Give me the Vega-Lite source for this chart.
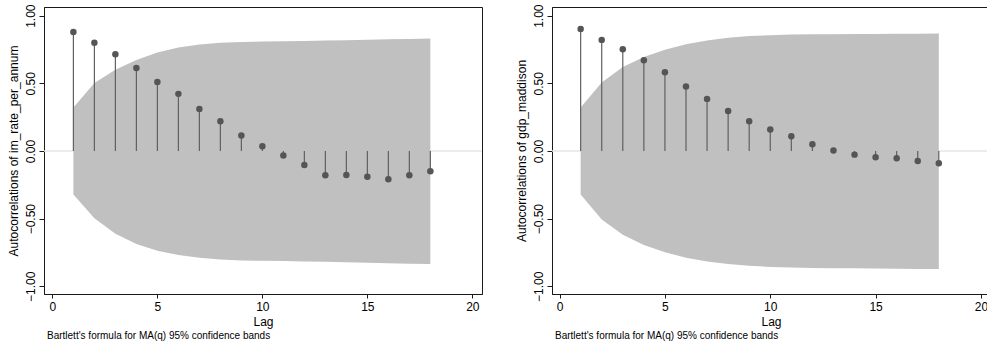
{
  "$schema": "https://vega.github.io/schema/vega-lite/v6.json",
  "background": "white",
  "padding": {"left": 6, "top": 3, "right": 0, "bottom": 0},
  "spacing": 30,
  "config": {
    "font": "Liberation Sans",
    "view": {"stroke": "#1a1a1a", "strokeWidth": 1},
    "axis": {"grid": false, "domainColor": "#1a1a1a", "tickColor": "#1a1a1a", "labelColor": "#000000", "titleColor": "#000000", "labelFont": "Liberation Sans", "titleFont": "Liberation Sans", "labelFontSize": 12, "titleFontSize": 12, "titleFontWeight": "normal", "tickSize": 5},
    "axisY": {"labelAngle": -90, "labelAlign": "center", "labelBaseline": "bottom", "labelPadding": 2, "titlePadding": 4},
    "axisX": {"labelPadding": 3, "titlePadding": 4, "tickSize": 4}
  },
  "datasets": {
    "im": [
      {"lag": 1, "r": 0.880, "upper": 0.322, "lower": -0.322},
      {"lag": 2, "r": 0.799, "upper": 0.502, "lower": -0.498},
      {"lag": 3, "r": 0.715, "upper": 0.600, "lower": -0.612},
      {"lag": 4, "r": 0.614, "upper": 0.672, "lower": -0.688},
      {"lag": 5, "r": 0.510, "upper": 0.728, "lower": -0.738},
      {"lag": 6, "r": 0.422, "upper": 0.764, "lower": -0.768},
      {"lag": 7, "r": 0.311, "upper": 0.787, "lower": -0.790},
      {"lag": 8, "r": 0.220, "upper": 0.799, "lower": -0.802},
      {"lag": 9, "r": 0.114, "upper": 0.806, "lower": -0.809},
      {"lag": 10, "r": 0.035, "upper": 0.809, "lower": -0.812},
      {"lag": 11, "r": -0.034, "upper": 0.811, "lower": -0.814},
      {"lag": 12, "r": -0.104, "upper": 0.813, "lower": -0.816},
      {"lag": 13, "r": -0.180, "upper": 0.816, "lower": -0.819},
      {"lag": 14, "r": -0.177, "upper": 0.819, "lower": -0.822},
      {"lag": 15, "r": -0.190, "upper": 0.822, "lower": -0.826},
      {"lag": 16, "r": -0.209, "upper": 0.825, "lower": -0.829},
      {"lag": 17, "r": -0.180, "upper": 0.828, "lower": -0.833},
      {"lag": 18, "r": -0.150, "upper": 0.831, "lower": -0.836}
    ],
    "gdp": [
      {"lag": 1, "r": 0.902, "upper": 0.322, "lower": -0.322},
      {"lag": 2, "r": 0.821, "upper": 0.506, "lower": -0.506},
      {"lag": 3, "r": 0.752, "upper": 0.620, "lower": -0.620},
      {"lag": 4, "r": 0.671, "upper": 0.694, "lower": -0.694},
      {"lag": 5, "r": 0.582, "upper": 0.748, "lower": -0.748},
      {"lag": 6, "r": 0.476, "upper": 0.789, "lower": -0.789},
      {"lag": 7, "r": 0.385, "upper": 0.817, "lower": -0.817},
      {"lag": 8, "r": 0.296, "upper": 0.836, "lower": -0.836},
      {"lag": 9, "r": 0.220, "upper": 0.849, "lower": -0.849},
      {"lag": 10, "r": 0.158, "upper": 0.856, "lower": -0.857},
      {"lag": 11, "r": 0.109, "upper": 0.860, "lower": -0.862},
      {"lag": 12, "r": 0.050, "upper": 0.862, "lower": -0.864},
      {"lag": 13, "r": 0.003, "upper": 0.863, "lower": -0.866},
      {"lag": 14, "r": -0.027, "upper": 0.864, "lower": -0.867},
      {"lag": 15, "r": -0.047, "upper": 0.865, "lower": -0.869},
      {"lag": 16, "r": -0.054, "upper": 0.866, "lower": -0.870},
      {"lag": 17, "r": -0.074, "upper": 0.867, "lower": -0.872},
      {"lag": 18, "r": -0.091, "upper": 0.868, "lower": -0.873}
    ]
  },
  "hconcat": [
    {
      "width": 438,
      "height": 287,
      "data": {"name": "im"},
      "title": {"text": "Bartlett's formula for MA(q) 95% confidence bands", "orient": "bottom", "anchor": "start", "frame": "group", "fontSize": 10, "fontWeight": "normal", "font": "Liberation Sans", "color": "#000000", "offset": 4, "dx": 3},
      "layer": [
        {
          "data": {"values": [{}]},
          "mark": {"type": "rule", "color": "#e6e6e6", "strokeWidth": 1.5},
          "encoding": {"y": {"datum": 0, "type": "quantitative", "scale": {"domain": [-1.057, 1.064], "nice": false, "zero": false}}}
        },
        {
          "mark": {"type": "area", "color": "#c0c0c0", "opacity": 1},
          "encoding": {
            "x": {"field": "lag", "type": "quantitative", "scale": {"domain": [-0.4, 20.46], "nice": false, "zero": false}, "axis": {"title": "Lag", "values": [0, 5, 10, 15, 20]}},
            "y": {"field": "upper", "type": "quantitative", "scale": {"domain": [-1.057, 1.064], "nice": false, "zero": false}, "axis": {"title": "Autocorrelations of im_rate_per_annum", "values": [-1, -0.5, 0, 0.5, 1], "format": ".2f"}},
            "y2": {"field": "lower"}
          }
        },
        {
          "mark": {"type": "rule", "color": "#606060", "strokeWidth": 1.2},
          "encoding": {
            "x": {"field": "lag", "type": "quantitative"},
            "y": {"field": "r", "type": "quantitative"},
            "y2": {"datum": 0}
          }
        },
        {
          "mark": {"type": "point", "filled": true, "color": "#555555", "size": 42, "opacity": 1},
          "encoding": {
            "x": {"field": "lag", "type": "quantitative"},
            "y": {"field": "r", "type": "quantitative"}
          }
        }
      ]
    },
    {
      "width": 438,
      "height": 287,
      "data": {"name": "gdp"},
      "title": {"text": "Bartlett's formula for MA(q) 95% confidence bands", "orient": "bottom", "anchor": "start", "frame": "group", "fontSize": 10, "fontWeight": "normal", "font": "Liberation Sans", "color": "#000000", "offset": 4, "dx": 3},
      "layer": [
        {
          "data": {"values": [{}]},
          "mark": {"type": "rule", "color": "#e6e6e6", "strokeWidth": 1.5},
          "encoding": {"y": {"datum": 0, "type": "quantitative", "scale": {"domain": [-1.057, 1.064], "nice": false, "zero": false}}}
        },
        {
          "mark": {"type": "area", "color": "#c0c0c0", "opacity": 1},
          "encoding": {
            "x": {"field": "lag", "type": "quantitative", "scale": {"domain": [-0.36, 20.43], "nice": false, "zero": false}, "axis": {"title": "Lag", "values": [0, 5, 10, 15, 20]}},
            "y": {"field": "upper", "type": "quantitative", "scale": {"domain": [-1.057, 1.064], "nice": false, "zero": false}, "axis": {"title": "Autocorrelations of gdp_maddison", "values": [-1, -0.5, 0, 0.5, 1], "format": ".2f"}},
            "y2": {"field": "lower"}
          }
        },
        {
          "mark": {"type": "rule", "color": "#606060", "strokeWidth": 1.2},
          "encoding": {
            "x": {"field": "lag", "type": "quantitative"},
            "y": {"field": "r", "type": "quantitative"},
            "y2": {"datum": 0}
          }
        },
        {
          "mark": {"type": "point", "filled": true, "color": "#555555", "size": 42, "opacity": 1},
          "encoding": {
            "x": {"field": "lag", "type": "quantitative"},
            "y": {"field": "r", "type": "quantitative"}
          }
        }
      ]
    }
  ]
}
